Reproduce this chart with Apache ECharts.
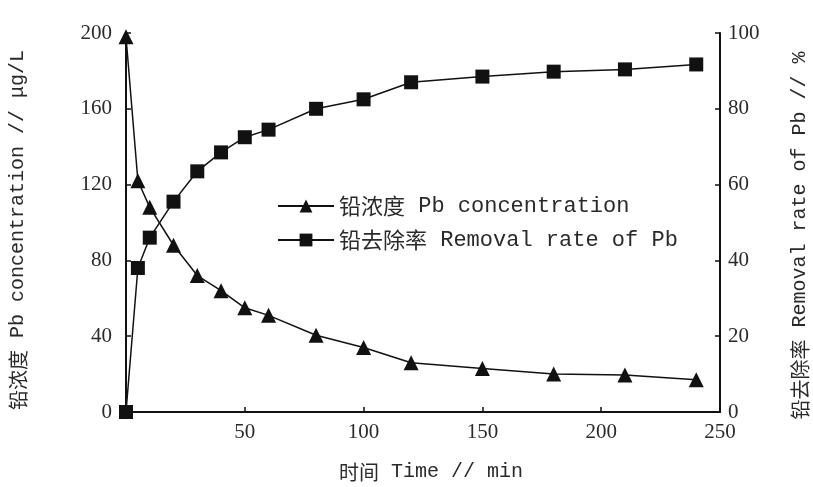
<!DOCTYPE html>
<html><head><meta charset="utf-8">
<script src="https://cdn.jsdelivr.net/npm/echarts@6/dist/echarts.min.js"></script>
<style>html,body{margin:0;padding:0;background:#fff}#c{width:813px;height:487px}</style>
</head><body><div id="c"></div>
<script>
const timeMin = [0, 5, 10, 20, 30, 40, 50, 60, 80, 100, 120, 150, 180, 210, 240];
const pbConcentration = [198, 122, 108, 88, 72, 64, 55, 51, 40.5, 34, 26, 23, 20, 19.5, 17];
const removalRate = [0, 38, 46, 55.5, 63.5, 68.5, 72.5, 74.5, 80, 82.5, 87, 88.5, 89.8, 90.4, 91.7];
const xTicks = [0, 50, 100, 150, 200, 250];
const leftTicks = [0, 40, 80, 120, 160, 200];
const rightTicks = [0, 20, 40, 60, 80, 100];
const seriesNames = ['铅浓度 Pb concentration', '铅去除率 Removal rate of Pb'];
const xName = '时间 Time // min';
const leftName = '铅浓度 Pb concentration // μg/L';
const rightName = '铅去除率 Removal rate of Pb // %';

const serif = '"Liberation Serif", "Noto Sans CJK SC", serif';
const mono = '"Liberation Mono", "Noto Sans CJK SC", monospace';
const cjk = '"Noto Sans CJK SC", sans-serif';
const txt = '#2a2a2a';
const richLegend = {
  c: {fontFamily: cjk, fontSize: 22, color: txt},
  e: {fontFamily: mono, fontSize: 22, color: txt}
};
const richAxis = {
  c: {fontFamily: cjk, fontSize: 20, color: txt},
  e: {fontFamily: mono, fontSize: 20, color: txt}
};
function mixed(s) {
  const i = s.indexOf(' ');
  return '{c|' + s.slice(0, i) + '}{e|' + s.slice(i) + '}';
}
const axisLine = {show: true, lineStyle: {color: '#111', width: 2}};
const tick = {show: true, inside: true, length: 5, lineStyle: {color: '#111', width: 1.5}};
const chart = echarts.init(document.getElementById('c'), null, {renderer: 'canvas'});
chart.setOption({
  animation: false,
  backgroundColor: '#fff',
  grid: {left: 126, right: 93, top: 33, bottom: 75, containLabel: false, outerBoundsMode: 'none'},
  legend: {
    orient: 'vertical', left: 272, top: 190,
    itemWidth: 56, itemHeight: 16, itemGap: 12,
    data: seriesNames,
    formatter: n => mixed(n),
    textStyle: {rich: richLegend, color: txt}
  },
  xAxis: {
    type: 'value', min: xTicks[0], max: xTicks[xTicks.length - 1], interval: 50,
    name: mixed(xName), nameLocation: 'middle', nameGap: 50,
    nameTextStyle: {rich: richAxis, padding: [0, 0, 0, 16]},
    axisLine: axisLine, axisTick: tick,
    axisLabel: {fontFamily: serif, fontSize: 21, color: txt, margin: 10,
      formatter: v => (v === 0 ? '' : String(v))},
    splitLine: {show: false}
  },
  yAxis: [{
    type: 'value', min: leftTicks[0], max: leftTicks[leftTicks.length - 1], interval: 40,
    position: 'left',
    name: mixed(leftName), nameLocation: 'middle', nameGap: 98,
    nameTextStyle: {rich: richAxis, padding: [0, 15, 0, 0]},
    axisLine: axisLine, axisTick: tick,
    axisLabel: {fontFamily: serif, fontSize: 21, color: txt, margin: 14},
    splitLine: {show: false}
  }, {
    type: 'value', min: rightTicks[0], max: rightTicks[rightTicks.length - 1], interval: 20,
    position: 'right',
    name: mixed(rightName), nameLocation: 'middle', nameGap: 70,
    nameTextStyle: {rich: richAxis, padding: [0, 26, 0, 0]},
    axisLine: axisLine, axisTick: tick,
    axisLabel: {fontFamily: serif, fontSize: 21, color: txt, margin: 8},
    splitLine: {show: false}
  }],
  series: [{
    name: seriesNames[0], type: 'line', yAxisIndex: 0,
    data: timeMin.map((t, i) => [t, pbConcentration[i]]),
    symbol: 'triangle', symbolSize: 15,
    lineStyle: {color: '#111', width: 1.5},
    itemStyle: {color: '#111'}, z: 3
  }, {
    name: seriesNames[1], type: 'line', yAxisIndex: 1,
    data: timeMin.map((t, i) => [t, removalRate[i]]),
    symbol: 'rect', symbolSize: 14,
    lineStyle: {color: '#111', width: 1.5},
    itemStyle: {color: '#111'}, z: 2
  }]
});
</script></body></html>
